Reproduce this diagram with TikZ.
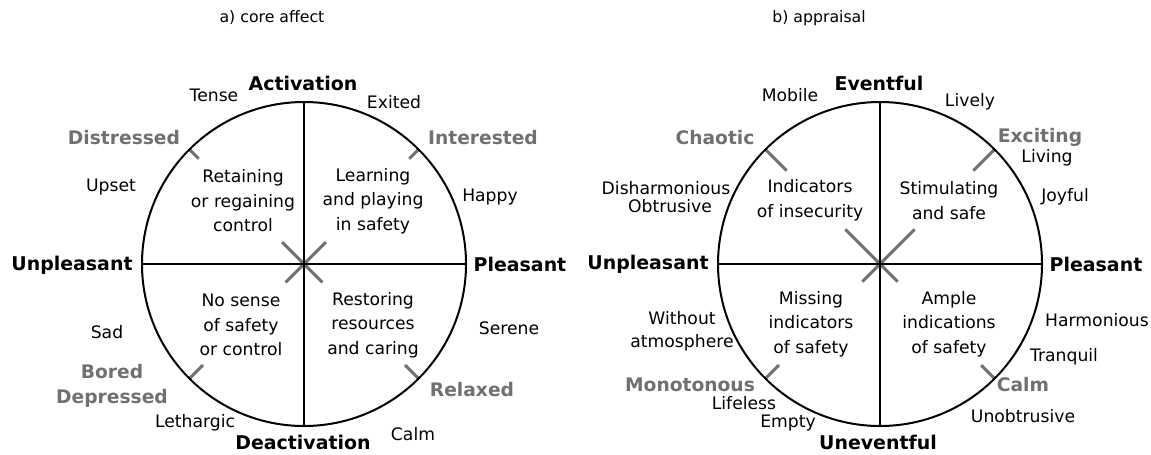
\documentclass[tikz,border=0pt]{standalone}
\usepackage{fontspec}
\setmainfont{DejaVu Sans}
\definecolor{midgray}{RGB}{112,112,112}
\tikzset{
  word/.style={inner sep=0pt, font=\fontsize{12.9}{18}\selectfont},
  pole/.style={inner sep=0pt, font=\fontsize{14.2}{18}\selectfont\bfseries},
  mood/.style={inner sep=0pt, text=midgray, font=\fontsize{14}{19}\selectfont\bfseries},
  quad/.style={inner sep=0pt, align=center, font=\fontsize{12.9}{18.4}\selectfont},
  heading/.style={inner sep=0pt, font=\fontsize{11.8}{14}\selectfont},
  axis/.style={line width=2.2pt},
  rim/.style={line width=1.5pt},
  diag/.style={line width=2.2pt, midgray}
}
\begin{document}
\begin{tikzpicture}[x=0.75pt, y=-0.75pt]
  \useasboundingbox (0,0) rectangle (1151,454);
  \coordinate (ca) at (304,264);
  \coordinate (cb) at (880,264);

  % a) core affect
  \node[heading] (titleA) at (272,18) {a) core affect};
  \foreach \ang/\len in {225/31, 315/31, 45/26, 135/26}
    \draw[diag] (ca) -- ([shift={(\ang:\len)}]ca);
  \foreach \ang/\rin in {225/149, 315/149, 45/143, 135/143}
    \draw[diag] ([shift={(\ang:\rin)}]ca) -- ([shift={(\ang:162)}]ca);
  \draw[rim] (ca) circle[radius=162];
  \draw[axis] ([shift={(0,-162)}]ca) -- ([shift={(0,162)}]ca);
  \draw[axis] ([shift={(-162,0)}]ca) -- ([shift={(162,0)}]ca);

  \node[pole] (actA) at (303,83) {Activation};
  \node[pole] (deactA) at (303,442) {Deactivation};
  \node[pole] (unplA) at (72,265) {Unpleasant};
  \node[pole] (plA) at (520,264) {Pleasant};
  \node[mood] (distr) at (124,138) {Distressed};
  \node[mood] (inter) at (483,138) {Interested};
  \node[mood] (bored) at (112,372) {Bored};
  \node[mood] (depr) at (112,398) {Depressed};
  \node[mood] (relax) at (472,390) {Relaxed};
  \node[word] (tense) at (214,95) {Tense};
  \node[word] (exited) at (394,102) {Exited};
  \node[word] (upset) at (111,187) {Upset};
  \node[word] (happy) at (490,197) {Happy};
  \node[word] (sad) at (107,332) {Sad};
  \node[word] (serene) at (509,328) {Serene};
  \node[word] (leth) at (195,423) {Lethargic};
  \node[word] (calmA) at (413,434) {Calm};
  \node[quad] (qA1) at (243,201) {Retaining\\or regaining\\control};
  \node[quad] (qA2) at (373,201) {Learning\\and playing\\in safety};
  \node[quad] (qA3) at (241,325) {No sense\\of safety\\or control};
  \node[quad] (qA4) at (373,325) {Restoring\\resources\\and caring};

  % b) appraisal
  \node[heading] (titleB) at (819,18) {b) appraisal};
  \foreach \ang/\len in {225/49, 315/49, 45/25, 135/25}
    \draw[diag] (cb) -- ([shift={(\ang:\len)}]cb);
  \foreach \ang/\rin in {225/132, 315/132, 45/143, 135/143}
    \draw[diag] ([shift={(\ang:\rin)}]cb) -- ([shift={(\ang:162)}]cb);
  \draw[rim] (cb) circle[radius=162];
  \draw[axis] ([shift={(0,-162)}]cb) -- ([shift={(0,162)}]cb);
  \draw[axis] ([shift={(-162,0)}]cb) -- ([shift={(162,0)}]cb);

  \node[pole] (evB) at (879,83) {Eventful};
  \node[pole] (unevB) at (878,442) {Uneventful};
  \node[pole] (unplB) at (648,264) {Unpleasant};
  \node[pole] (plB) at (1096,264) {Pleasant};
  \node[mood] (chaos) at (715,138) {Chaotic};
  \node[mood] (excit) at (1040,137) {Exciting};
  \node[mood] (monot) at (690,385) {Monotonous};
  \node[mood] (calmB) at (1023,385) {Calm};
  \node[word] (mobile) at (790,95) {Mobile};
  \node[word] (lively) at (970,102) {Lively};
  \node[word] (living) at (1047,158) {Living};
  \node[word] (joyful) at (1065,197) {Joyful};
  \node[word] (dishar) at (666,188) {Disharmonious};
  \node[word] (obtr) at (670,206) {Obtrusive};
  \node[word] (without) at (682,318) {Without};
  \node[word] (atmos) at (682,343) {atmosphere};
  \node[word] (harm) at (1097,320) {Harmonious};
  \node[word] (tranq) at (1064,357) {Tranquil};
  \node[word] (lifel) at (744,403) {Lifeless};
  \node[word] (empty) at (788,423) {Empty};
  \node[word] (unobtr) at (1023,416) {Unobtrusive};
  \node[quad] (qB1) at (810,200.5) {Indicators\\of insecurity};
  \node[quad] (qB2) at (949,200.5) {Stimulating\\and safe};
  \node[quad] (qB3) at (811,324) {Missing\\indicators\\of safety};
  \node[quad] (qB4) at (949,324) {Ample\\indications\\of safety};
\end{tikzpicture}
\end{document}
